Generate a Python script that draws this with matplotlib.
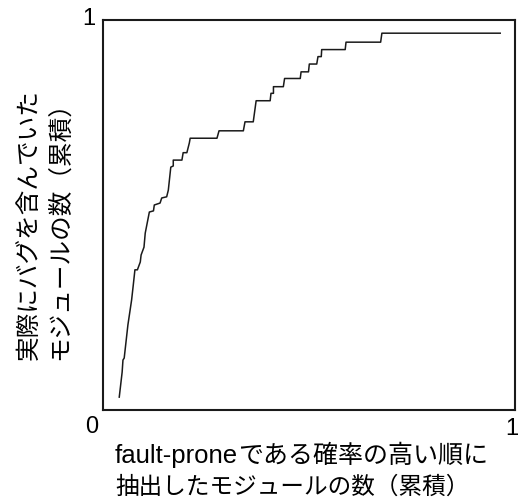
"""Cumulative fault-prone module curve."""

import matplotlib

matplotlib.use("Agg")

import matplotlib.pyplot as plt  # noqa: E402
import matplotlib.transforms as mtransforms  # noqa: E402

plt.rcParams["font.family"] = ["Liberation Sans", "Noto Sans CJK JP", "DejaVu Sans"]

# fraction of modules extracted (in order of fault-prone probability)
modules_frac = [
    0.040, 0.047, 0.049, 0.052, 0.061, 0.070, 0.074, 0.078, 0.084, 0.091,
    0.093, 0.100, 0.103, 0.113, 0.123, 0.125, 0.139, 0.143, 0.155, 0.159,
    0.165, 0.171, 0.171, 0.192, 0.195, 0.204, 0.210, 0.212, 0.277, 0.282,
    0.341, 0.345, 0.365, 0.372, 0.406, 0.408, 0.414, 0.414, 0.438, 0.441,
    0.479, 0.481, 0.499, 0.501, 0.519, 0.522, 0.530, 0.531, 0.588, 0.590,
    0.674, 0.677, 0.964,
]
# fraction of modules that actually contained bugs (cumulative)
buggy_frac = [
    0.033, 0.097, 0.128, 0.133, 0.218, 0.282, 0.320, 0.359, 0.359, 0.379,
    0.397, 0.417, 0.453, 0.507, 0.510, 0.525, 0.530, 0.543, 0.546, 0.563,
    0.622, 0.625, 0.640, 0.640, 0.659, 0.659, 0.684, 0.696, 0.696, 0.715,
    0.715, 0.738, 0.738, 0.792, 0.792, 0.811, 0.811, 0.828, 0.828, 0.849,
    0.849, 0.866, 0.866, 0.886, 0.886, 0.905, 0.905, 0.923, 0.923, 0.942,
    0.942, 0.965, 0.965,
]

xlabel_latin = "fault-prone"
xlabel_rest = "である確率の高い順に"
xlabel_line2 = "抽出したモジュールの数（累積）"
ylabel = "実際にバグを含んでいた\nモジュールの数（累積）"

fig = plt.figure(figsize=(5.19, 4.98), dpi=100)
ax = fig.add_axes([0.198, 0.1767, 0.7944, 0.7841])
ax.plot(modules_frac, buggy_frac, color="#1a1a1a", linewidth=1.1)

ax.set_xlim(0, 1)
ax.set_ylim(0, 1)
for side in ax.spines.values():
    side.set_linewidth(1.5)
    side.set_color("#1a1a1a")

ax.set_xticks([1])
ax.set_xticklabels(["1"])
ax.set_yticks([1])
ax.set_yticklabels(["1"])
ax.tick_params(axis="x", length=0, pad=6, labelsize=17)
ax.tick_params(axis="y", length=0, pad=5, labelsize=17)
# nudge the "1" labels a bit, like the original
for lab in ax.get_xticklabels():
    lab.set_transform(lab.get_transform()
                      + mtransforms.ScaledTranslation(-2 / 72, 0, fig.dpi_scale_trans))
for lab in ax.get_yticklabels():
    lab.set_transform(lab.get_transform()
                      + mtransforms.ScaledTranslation(0, 2 / 72, fig.dpi_scale_trans))
ax.annotate("0", xy=(0, 0), xycoords="axes fraction", xytext=(-8, -12),
            textcoords="offset points", ha="center", va="center", fontsize=17)

# x label: the latin part is set a little larger than the Japanese
x0 = 115 / 519
t1 = fig.text(x0, 0.071, xlabel_latin, ha="left", va="baseline", fontsize=18.5)
fig.canvas.draw()
w = t1.get_window_extent().width / fig.bbox.width
fig.text(x0 + w, 0.071, xlabel_rest, ha="left", va="baseline", fontsize=18)
fig.text(x0, 0.009, xlabel_line2, ha="left", va="baseline", fontsize=17)

fig.text(0.086, 0.277, ylabel, rotation=90, ha="center", va="bottom",
         multialignment="left", fontsize=17.7, linespacing=1.3)

fig.savefig("out.png", dpi=100)
plt.close(fig)
